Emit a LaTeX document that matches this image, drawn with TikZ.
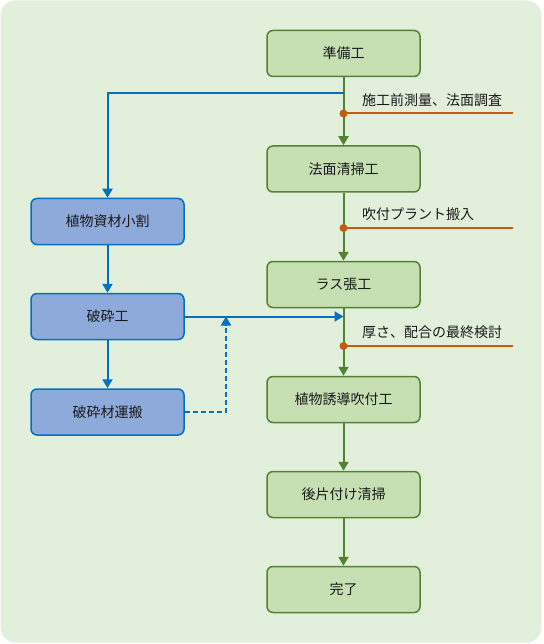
\documentclass[tikz,border=0pt]{standalone}
\usepackage{fontspec}
\setmainfont{Noto Sans CJK JP}
\usetikzlibrary{arrows.meta,positioning}
\definecolor{bgcol}{HTML}{E2EFDA}
\definecolor{gfill}{HTML}{C6E0B4}
\definecolor{gline}{HTML}{548235}
\definecolor{bfill}{HTML}{8EAADB}
\definecolor{bline}{HTML}{0070C0}
\definecolor{oline}{HTML}{C55A11}
\definecolor{txt}{HTML}{1A1A1A}
\tikzset{
  gbox/.style={draw=gline, fill=gfill, line width=1.5pt, rounded corners=6pt,
    minimum width=153pt, minimum height=46pt, inner sep=0pt, font=\fontsize{14pt}{16pt}\selectfont, text=txt},
  bbox/.style={draw=bline, fill=bfill, line width=1.5pt, rounded corners=6pt,
    minimum width=153pt, minimum height=46pt, inner sep=0pt, font=\fontsize{14pt}{16pt}\selectfont, text=txt},
  garrow/.style={draw=gline, line width=2pt, -{Triangle[width=10pt,length=9pt]}},
  barrow/.style={draw=bline, line width=2pt, -{Triangle[width=10pt,length=9pt]}},
  oliner/.style={draw=oline, line width=2pt},
  lbl/.style={anchor=west, inner sep=0pt, font=\fontsize{14pt}{16pt}\selectfont, text=txt},
}
\begin{document}
\begin{tikzpicture}[x=1pt,y=-1pt]
\useasboundingbox (0,0) rectangle (543,644);
\fill[bgcol, rounded corners=15pt] (0.5,0.5) rectangle (541.5,642.5);

% green column
\node[gbox] (g1) at (343.5,53.5) {準備工};
\node[gbox] (g2) at (343.5,169) {法面清掃工};
\node[gbox] (g3) at (343.5,284.5) {ラス張工};
\node[gbox] (g4) at (343.5,399.5) {植物誘導吹付工};
\node[gbox] (g5) at (343.5,494.5) {後片付け清掃};
\node[gbox] (g6) at (343.5,589.5) {完了};

% blue column
\node[bbox] (b1) at (107.5,221.5) {植物資材小割};
\node[bbox] (b2) at (107.5,316.5) {破砕工};
\node[bbox] (b3) at (107.5,412) {破砕材運搬};

% junction coordinates
\coordinate (j0) at (343.5,93);
\coordinate (o1) at (343.5,113.5);
\coordinate (o1e) at (513,113.5);
\coordinate (o2) at (343.5,228);
\coordinate (o2e) at (513,228);
\coordinate (j1) at (343.5,316.5);
\coordinate (o3) at (343.5,346);
\coordinate (o3e) at (513,346);
\coordinate (d1) at (226,412);
\coordinate (d2) at (226,316.5);

% green arrows
\draw[garrow] (g1.south) -- (g2.north);
\draw[garrow] (g2.south) -- (g3.north);
\draw[garrow] (g3.south) -- (g4.north);
\draw[garrow] (g4.south) -- (g5.north);
\draw[garrow] (g5.south) -- (g6.north);

% blue connectors
\draw[barrow] (j0) -| (b1.north);
\draw[barrow] (b1.south) -- (b2.north);
\draw[barrow] (b2.south) -- (b3.north);
\draw[barrow] (b2.east) -- (j1);
\draw[barrow, dashed, dash pattern=on 5pt off 3pt] (b3.east) -- (d1) -- (d2);

% orange side lines
\draw[oliner] (o1) -- (o1e);
\draw[oliner] (o2) -- (o2e);
\draw[oliner] (o3) -- (o3e);
\fill[oline] (o1) circle (4pt);
\fill[oline] (o2) circle (4pt);
\fill[oline] (o3) circle (4pt);

% labels
\node[lbl] (l1) at (362,100) {施工前測量、法面調査};
\node[lbl] (l2) at (362,214) {吹付プラント搬入};
\node[lbl] (l3) at (362,332.5) {厚さ、配合の最終検討};
\end{tikzpicture}
\end{document}
